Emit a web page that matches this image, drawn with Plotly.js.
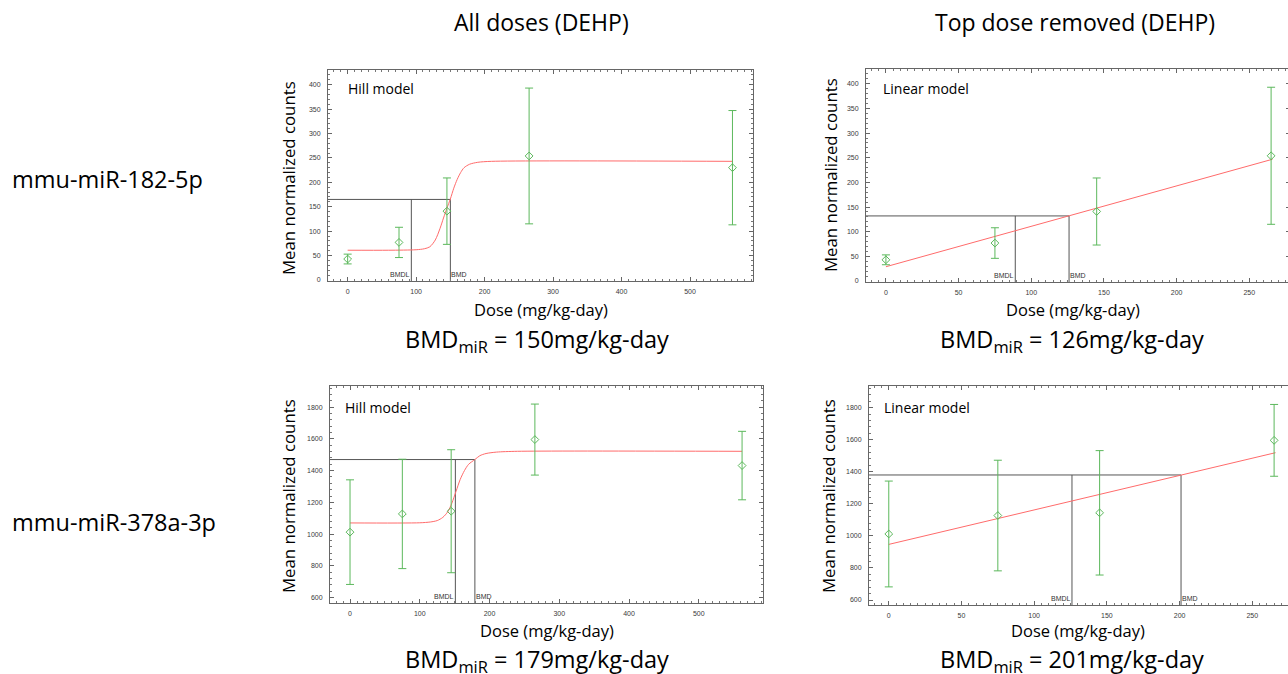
<!DOCTYPE html>
<html>
<head>
<meta charset="utf-8">
<script src="https://cdn.plot.ly/plotly-3.0.1.min.js"></script>
<style>
  html, body { margin: 0; padding: 0; background: #fff; overflow: hidden; }
  #chart { width: 1300px; height: 674px; }
</style>
</head>
<body>
<div id="chart"></div>
<script>
// ---------------- data ----------------
const doses = [0, 75, 145, 265, 562];
const dosesTop = [0, 75, 145, 265];

const mir182Mean = [43, 77, 141, 254, 230];
const mir182SD   = [10, 31, 68, 139, 117];
const mir378Mean = [1012, 1127, 1144, 1596, 1432];
const mir378SD   = [330, 345, 388, 224, 216];

// Hill model curves (all doses)
const hill182X = [0, 60, 100, 112, 120, 128, 135, 140, 145, 150, 155, 160, 165, 170, 178, 190, 210, 562];
const hill182Y = [61, 61, 62, 64, 68, 82, 106, 127, 147, 166, 188, 206, 220, 230, 237, 241, 243, 243];
const hill378X = [0, 100, 115, 125, 133, 140, 146, 152, 158, 164, 170, 179, 186, 195, 210, 240, 562];
const hill378Y = [1070, 1071, 1076, 1085, 1105, 1140, 1195, 1270, 1345, 1400, 1440, 1470, 1494, 1508, 1517, 1522, 1522];

// Linear model lines (top dose removed)
const lin182X = [0, 266];
const lin182Y = [29, 247];
const lin378X = [0, 266];
const lin378Y = [947, 1519];

// BMD / BMDL / response at BMD: [miR-182 all, miR-182 top removed, miR-378 all, miR-378 top removed]
const bmdValues  = [150, 126, 179, 201];
const bmdlValues = [93, 89, 151, 126];
const bmdResp    = [165, 132, 1470, 1380];

const rowLabels = ["mmu-miR-182-5p", "mmu-miR-378a-3p"];
const colLabels = ["All doses (DEHP)", "Top dose removed (DEHP)"];
const modelLabels = ["Hill model", "Linear model", "Hill model", "Linear model"];

// ---------------- styling / layout ----------------
const W = 1300, H = 674;
const GREEN = "#5cb85c";
const RED = "#ff6b6b";
const LINE = "#555555";
const FONT = "Open Sans, sans-serif";

const panels = [
  {px: [328, 753], py: [70, 281], xr: [-28.7, 592], yr: [-2, 430], dx: 100, dy: 50,
   x: doses, y: mir182Mean, sd: mir182SD, cx: hill182X, cy: hill182Y, shape: "spline"},
  {px: [866, 1290], py: [69, 282], xr: [-13.7, 278], yr: [-2, 430], dx: 50, dy: 50,
   x: dosesTop, y: mir182Mean.slice(0, 4), sd: mir182SD.slice(0, 4), cx: lin182X, cy: lin182Y, shape: "linear"},
  {px: [330, 763], py: [386, 603], xr: [-28.7, 592], yr: [565, 1934], dx: 100, dy: 200,
   x: doses, y: mir378Mean, sd: mir378SD, cx: hill378X, cy: hill378Y, shape: "spline"},
  {px: [869, 1293], py: [386, 605], xr: [-13.6, 278], yr: [569, 1935], dx: 50, dy: 200,
   x: dosesTop, y: mir378Mean.slice(0, 4), sd: mir378SD.slice(0, 4), cx: lin378X, cy: lin378Y, shape: "linear"}
];

const traces = [];
const layout = {
  width: W, height: H,
  margin: {l: 0, r: 0, t: 0, b: 0},
  paper_bgcolor: "#ffffff", plot_bgcolor: "#ffffff",
  showlegend: false,
  font: {family: FONT, color: "#000"},
  annotations: []
};

panels.forEach((p, i) => {
  const n = i + 1;
  const xa = "x" + (n === 1 ? "" : n), ya = "y" + (n === 1 ? "" : n);
  const axisCommon = {
    showgrid: false, zeroline: false, showline: true, mirror: "allticks",
    linecolor: "#666", linewidth: 1,
    ticks: "inside", ticklen: 4, tickcolor: "#666", tickwidth: 1,
    tickfont: {family: "Liberation Sans, Arial, sans-serif", size: 7, color: "#3a3a3a"},
    fixedrange: true
  };
  layout["xaxis" + (n === 1 ? "" : n)] = Object.assign({}, axisCommon, {
    domain: [p.px[0] / W, p.px[1] / W], range: p.xr, anchor: ya,
    dtick: p.dx, tick0: 0, ticklabelstandoff: 4,
    minor: {ticks: "inside", ticklen: 2, tickcolor: "#777", dtick: p.dx / 10, showgrid: false}
  });
  layout["yaxis" + (n === 1 ? "" : n)] = Object.assign({}, axisCommon, {
    domain: [1 - p.py[1] / H, 1 - p.py[0] / H], range: p.yr, anchor: xa,
    dtick: p.dy, tick0: 0, ticklabelstandoff: 5,
    minor: {ticks: "inside", ticklen: 2, tickcolor: "#777", dtick: p.dy / 5, showgrid: false}
  });

  // BMD reference lines
  traces.push({
    x: [p.xr[0], bmdValues[i], bmdValues[i]], y: [bmdResp[i], bmdResp[i], p.yr[0]],
    xaxis: xa, yaxis: ya, mode: "lines", line: {color: LINE, width: 1}, hoverinfo: "skip"
  });
  traces.push({
    x: [bmdlValues[i], bmdlValues[i]], y: [p.yr[0], bmdResp[i]],
    xaxis: xa, yaxis: ya, mode: "lines", line: {color: LINE, width: 1}, hoverinfo: "skip"
  });
  // model curve
  traces.push({
    x: p.cx, y: p.cy, xaxis: xa, yaxis: ya, mode: "lines",
    line: {color: RED, width: 1, shape: p.shape, smoothing: 0.8}
  });
  // data points with error bars
  traces.push({
    x: p.x, y: p.y, xaxis: xa, yaxis: ya, mode: "markers",
    marker: {symbol: "diamond-open", size: 6, color: GREEN, line: {width: 1, color: GREEN}},
    error_y: {type: "data", array: p.sd, visible: true, color: GREEN, thickness: 1, width: 4}
  });

  layout.annotations.push(
    {xref: xa, yref: ya, x: bmdlValues[i], y: p.yr[0], text: "BMDL", showarrow: false,
     xanchor: "right", yanchor: "bottom", yshift: 1, xshift: 1,
     font: {family: "Liberation Sans, Arial, sans-serif", size: 7, color: "#333"}},
    {xref: xa, yref: ya, x: bmdValues[i], y: p.yr[0], text: "BMD", showarrow: false,
     xanchor: "left", yanchor: "bottom", yshift: 1, xshift: -1,
     font: {family: "Liberation Sans, Arial, sans-serif", size: 7, color: "#333"}}
  );
});

// pixel-positioned text helpers
function txt(text, x, y, size, opts) {
  return Object.assign({
    xref: "paper", yref: "paper", x: x / W, y: 1 - y / H, text: text, showarrow: false,
    xanchor: "center", yanchor: "middle", font: {family: FONT, size: size, color: "#000"}
  }, opts || {});
}

// column headers
layout.annotations.push(txt(colLabels[0], 541, 22, 23));
layout.annotations.push(txt(colLabels[1], 1075, 22, 23));
// row labels
layout.annotations.push(txt(rowLabels[0], 10, 179, 23.5, {xanchor: "left"}));
layout.annotations.push(txt(rowLabels[1], 10, 522, 23.5, {xanchor: "left"}));
// model labels
layout.annotations.push(txt(modelLabels[0], 346, 88, 14, {xanchor: "left"}));
layout.annotations.push(txt(modelLabels[1], 881, 88, 14, {xanchor: "left"}));
layout.annotations.push(txt(modelLabels[2], 343, 407, 14, {xanchor: "left"}));
layout.annotations.push(txt(modelLabels[3], 882, 407, 14, {xanchor: "left"}));
// axis titles
[[288, 178], [830, 175], [288, 496], [828, 496]].forEach(function (c) {
  layout.annotations.push(txt("Mean normalized counts", c[0], c[1], 16.8, {textangle: -90}));
});
[[541, 309], [1073, 309], [547, 630], [1078, 630]].forEach(function (c) {
  layout.annotations.push(txt("Dose (mg/kg-day)", c[0], c[1], 16.5));
});
// BMD captions
[[537, 340], [1072, 340], [537, 660], [1072, 660]].forEach(function (c, i) {
  layout.annotations.push(txt("BMD<sub>miR</sub> = " + bmdValues[i] + "mg/kg-day", c[0], c[1], 23.5));
});

Plotly.newPlot("chart", traces, layout, {displayModeBar: false, staticPlot: true});
</script>
</body>
</html>
